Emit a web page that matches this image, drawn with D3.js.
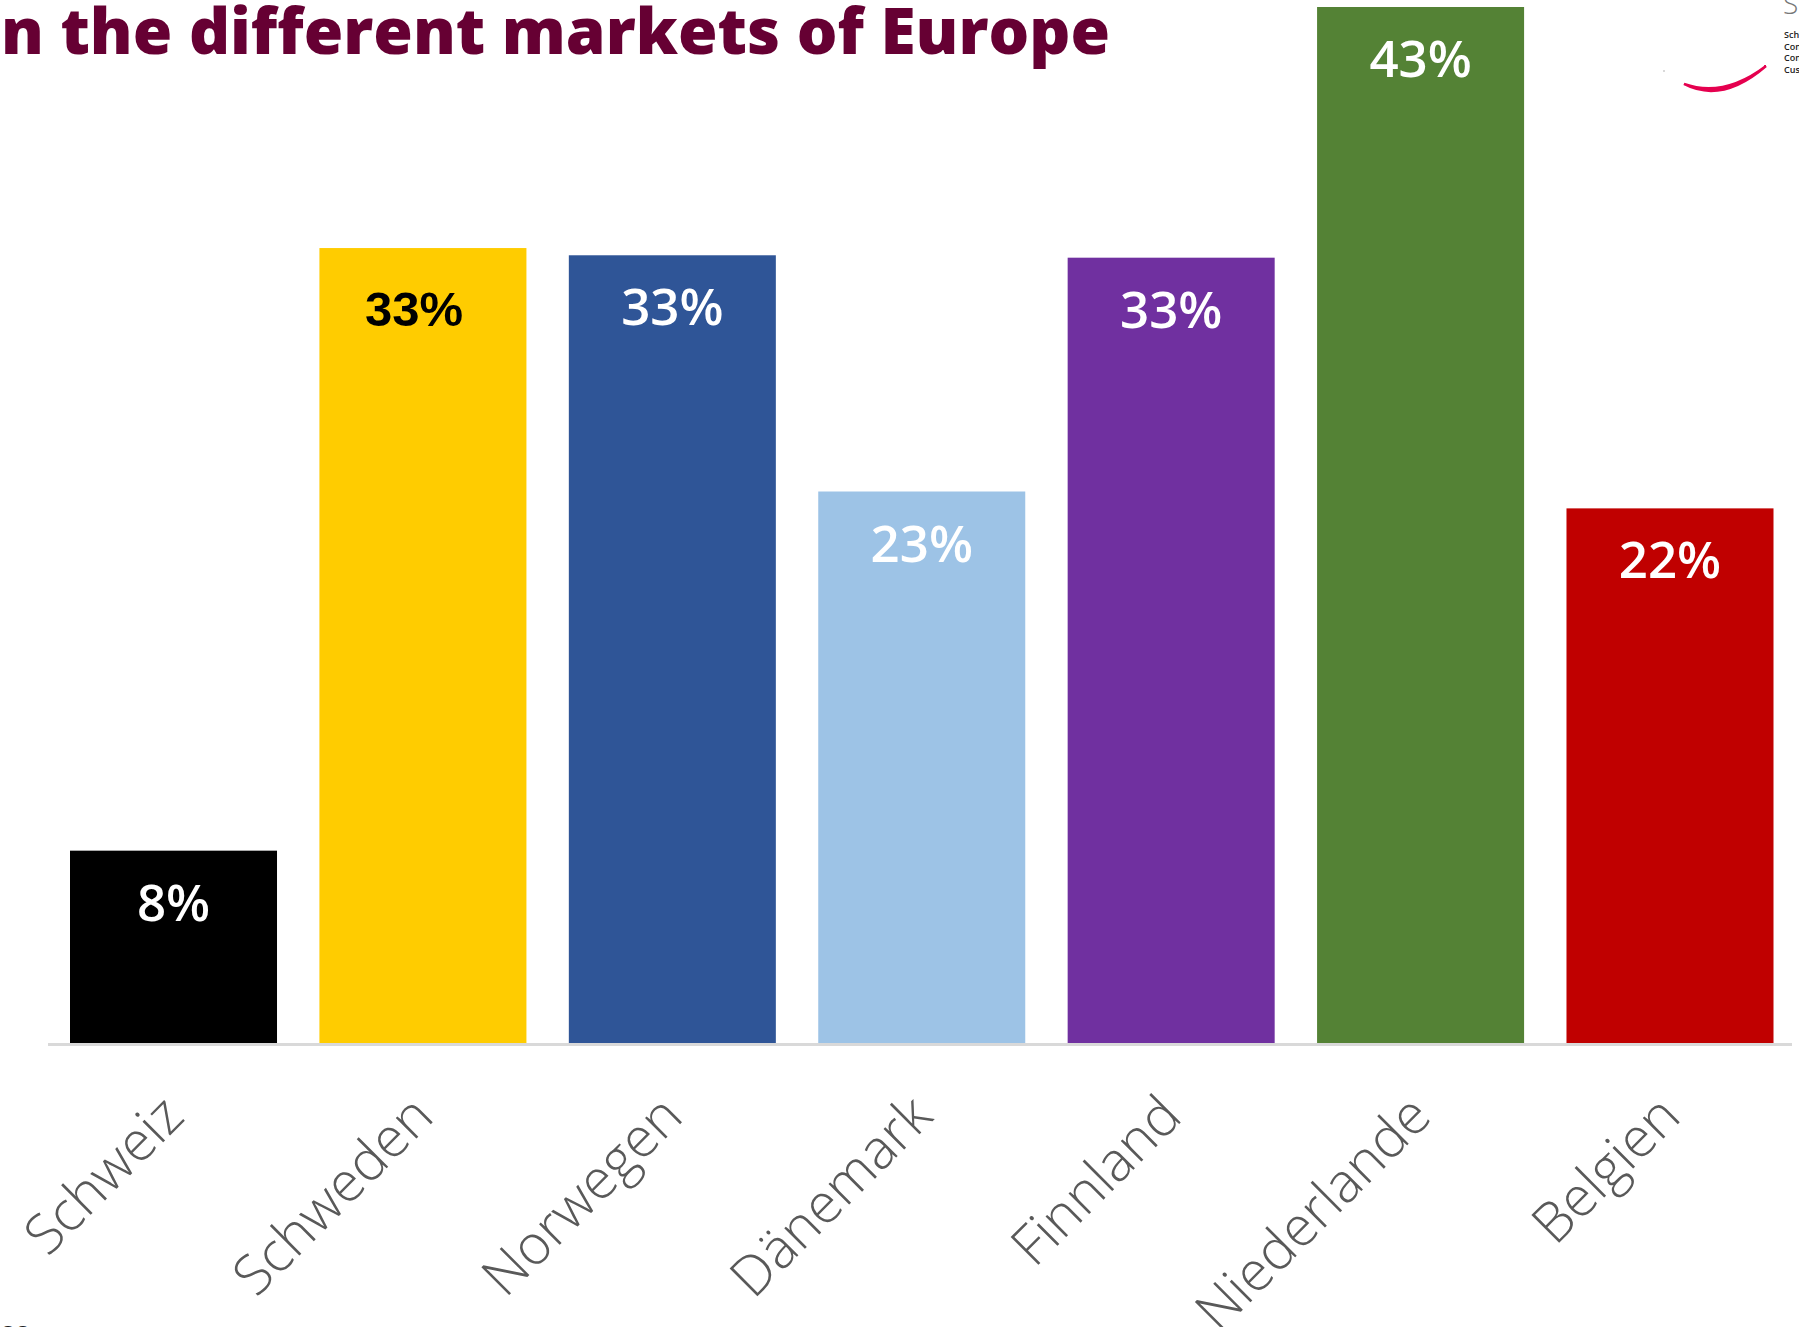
<!DOCTYPE html>
<meta charset="utf-8">
<style>
body { margin: 0; background: #fff; }
svg { display: block; }
.title { font: 800 64px "Open Sans", sans-serif; fill: #660033; }
.cat { font: 300 55px "Open Sans", sans-serif; fill: #595959; }
.val { font: 600 51px "Open Sans", sans-serif; fill: #fff; text-anchor: middle; }
</style>
<svg width="1799" height="1327"></svg>
<script src="https://d3js.org/d3.v7.min.js"></script>
<script>
// data
var countries = ["Schweiz", "Schweden", "Norwegen", "Dänemark", "Finnland", "Niederlande", "Belgien"];
var values = [8.0, 33.0, 32.7, 22.9, 32.6, 43.0, 22.2];
var valueLabels = ["8%", "33%", "33%", "23%", "33%", "43%", "22%"];
var barColors = ["#000000", "#ffcc00", "#2f5597", "#9dc3e6", "#7030a0", "#548235", "#c00000"];

var svg = d3.select("svg");
var baseY = 1043.5;

var x = d3.scaleBand()
	.domain(countries)
	.range([70, 1773.5])
	.paddingInner(0.17)
	.paddingOuter(0);

var y = d3.scaleLinear()
	.domain([0, 43])
	.range([baseY, 7]);

// title, cut off at the left edge like the slide
svg.append("text")
	.attr("class", "title")
	.attr("x", 1110)
	.attr("y", 54)
	.style("text-anchor", "end")
	.text("n the different markets of Europe");

// bars
svg.selectAll("rect.bar")
	.data(countries)
	.enter().append("rect")
	.attr("class", "bar")
	.attr("x", function(d) { return x(d); })
	.attr("y", function(d, i) { return y(values[i]); })
	.attr("width", x.bandwidth())
	.attr("height", function(d, i) { return baseY - y(values[i]); })
	.style("fill", function(d, i) { return barColors[i]; });

// baseline
svg.append("line")
	.attr("x1", 48)
	.attr("x2", 1792)
	.attr("y1", baseY + 1)
	.attr("y2", baseY + 1)
	.style("stroke", "#d9d9d9")
	.style("stroke-width", 3);

// value labels inside the bars (the Schweden one is plain black Arial in the slide)
svg.selectAll("text.val")
	.data(countries)
	.enter().append("text")
	.attr("class", "val")
	.attr("x", function(d, i) { return x(d) + x.bandwidth() / 2 - (i == 1 ? 9 : 0); })
	.attr("y", function(d, i) { return y(values[i]) + (i == 1 ? 78 : 70); })
	.style("fill", function(d, i) { return i == 1 ? "#000" : "#fff"; })
	.style("font-family", function(d, i) { return i == 1 ? "'Liberation Sans', Arial, sans-serif" : null; })
	.style("font-weight", function(d, i) { return i == 1 ? 700 : null; })
	.style("font-size", function(d, i) { return i == 1 ? "49px" : null; })
	.text(function(d, i) { return valueLabels[i]; });

// rotated category labels
svg.selectAll("text.cat")
	.data(countries)
	.enter().append("text")
	.attr("class", "cat")
	.attr("transform", function(d) {
		return "translate(" + (x(d) + x.bandwidth() / 2 + 13) + "," + 1119 + ") rotate(-45)";
	})
	.style("text-anchor", "end")
	.text(function(d) { return d; });

// logo fragment, top right
svg.append("path")
	.attr("d", "M1684,84 Q1722,104 1766,66 Q1724,98 1684,84 Z")
	.style("fill", "#e5004f")
	.style("stroke", "#e5004f")
	.style("stroke-width", 2.5);
svg.append("circle").attr("cx", 1664).attr("cy", 71).attr("r", 1).style("fill", "#ccc");
svg.append("text")
	.attr("x", 1783).attr("y", 14)
	.style("font", "300 28px 'Open Sans', sans-serif")
	.style("fill", "#777")
	.text("S");
var logoLines = ["Schweizer", "Consumer", "Consulting", "Customer"];
svg.selectAll("text.logo")
	.data(logoLines)
	.enter().append("text")
	.attr("class", "logo")
	.attr("x", 1784)
	.attr("y", function(d, i) { return 38 + i * 11.5; })
	.style("font", "600 9px 'Open Sans', sans-serif")
	.style("fill", "#222")
	.text(function(d) { return d; });

// page number, mostly below the frame
svg.append("text")
	.attr("x", 1)
	.attr("y", 1344)
	.style("font", "400 26px 'Open Sans', sans-serif")
	.style("fill", "#222")
	.text("22");
</script>
